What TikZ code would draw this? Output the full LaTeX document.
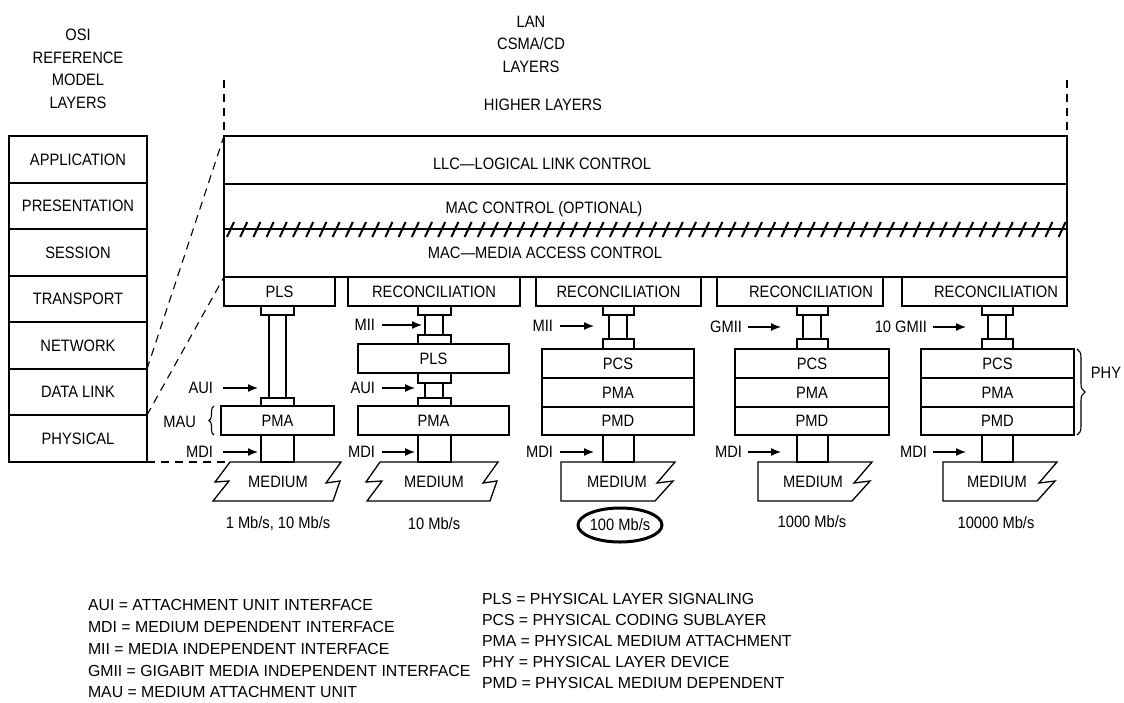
\documentclass[tikz,border=0pt]{standalone}
\usepackage{fontspec}
\setmainfont{Liberation Sans}[FakeStretch=0.89]
\newfontfamily\legfont{Liberation Sans}[FakeStretch=0.99]
\usetikzlibrary{shapes.geometric,decorations.pathreplacing,arrows.meta}
\tikzset{
  box/.style={draw, line width=1.3pt, inner sep=0pt, outer sep=0pt},
  txt/.style={inner sep=0pt, outer sep=0pt},
  lbl/.style={inner sep=0pt, outer sep=0pt, anchor=east},
  arr/.style={line width=1.3pt, -{Latex[length=10pt,width=8pt]}},
  dsh/.style={line width=1.1pt, dash pattern=on 8pt off 6pt},
  slash/.style={line width=2pt},
  med/.style={draw, line width=1.3pt, line join=miter},
  brc/.style={line width=1.1pt, decorate},
  leg/.style={inner sep=0pt, outer sep=0pt, anchor=west, font=\legfont\fontsize{16}{18}\selectfont},
  ring/.style={draw, ellipse, line width=3pt, minimum width=84pt, minimum height=34pt, inner sep=0pt}
}
\newcommand\bx[6]{\node[box, minimum width={(#4-#2)*1pt}, minimum height={(#5-#3)*1pt}] (#1) at ({(#2+#4)/2},{(#3+#5)/2}) {#6};}
\newcommand\phycol[8]{%
  \bx{c#1a}{#4}{306}{#5}{315}{}
  \bx{c#1t}{#6}{315}{#7}{339}{}
  \bx{c#1b}{#4}{339}{#5}{349}{}
  \bx{pcs#1}{#2}{349}{#3}{378}{PCS}
  \bx{pma#1}{#2}{378}{#3}{407}{PMA}
  \bx{pmd#1}{#2}{407}{#3}{435}{PMD}
  \bx{c#1m}{#4}{435}{#5}{462}{}
  \draw[med] (#8,462) -- ({#8+114},462) -- ({#8+96},483) -- ({#8+112},481) -- ({#8+94},501) -- (#8,501) -- cycle;
}
\begin{document}
\begin{tikzpicture}[x=1pt,y=-1pt,font=\fontsize{16.5}{22.5}\selectfont]
\useasboundingbox (0,0) rectangle (1124,702);

% titles
\node[txt, align=center] (osititle) at (78,69) {OSI\\REFERENCE\\MODEL\\LAYERS};
\node[txt, align=center] (lantitle) at (531,44) {LAN\\CSMA/CD\\LAYERS};
\node[txt] (higher) at (543,105) {HIGHER LAYERS};

% OSI stack
\bx{app}{9}{136}{147}{183}{APPLICATION}
\bx{pres}{9}{183}{147}{229}{PRESENTATION}
\bx{sess}{9}{229}{147}{276}{SESSION}
\bx{trans}{9}{276}{147}{322}{TRANSPORT}
\bx{net}{9}{322}{147}{369}{NETWORK}
\bx{dl}{9}{369}{147}{415}{DATA LINK}
\bx{phys}{9}{415}{147}{462}{PHYSICAL}

% LAN upper layers
\bx{llc}{224}{136}{1067}{184}{}
\node[txt] (llct) at (542,164) {LLC—LOGICAL LINK CONTROL};
\bx{mac}{224}{184}{1067}{277}{}
\node[txt] (macc) at (544,209) {MAC CONTROL (OPTIONAL)};
\node[txt] (mact) at (545,253) {MAC—MEDIA ACCESS CONTROL};
\draw[line width=1.3pt] (224,229) -- (1067,229);
\foreach \i in {0,...,63} \draw[slash] ({227+\i*13.2},237) -- ++(7,-15);

% dashed boundaries
\coordinate (dtl) at (224,80);
\coordinate (dtr) at (1067,80);
\draw[dsh] (dtl) -- (llc.north west);
\draw[dsh] (dtr) -- (llc.north east);
\draw[dsh] (net.south east) -- (llc.north west);

% reconciliation row
\bx{pls1}{224}{277}{335}{306}{PLS}
\bx{rec2}{348}{277}{520}{306}{RECONCILIATION}
\bx{rec3}{536}{277}{701}{306}{RECONCILIATION}
\bx{rec4}{717}{277}{883}{306}{}
\bx{rec5}{902}{277}{1067}{306}{}
\node[txt] (rec4t) at (811,291.5) {RECONCILIATION};
\node[txt] (rec5t) at (996,291.5) {RECONCILIATION};
\draw[dsh] (dl.south east) -- (pls1.north west);

% column 1
\bx{c1a}{261}{306}{294}{315}{}
\bx{c1t}{269}{315}{286}{398}{}
\bx{c1b}{261}{398}{294}{406}{}
\bx{pma1}{221}{406}{334}{435}{PMA}
\bx{c1m}{261}{435}{294}{462}{}
\coordinate (m1tl) at (230,462);
\draw[med] (m1tl) -- (341,462) -- (326,483) -- (340,481) -- (333,501) -- (213,501) -- (229,481) -- (215,482) -- cycle;
\draw[dsh] (phys.south east) -- (m1tl);
\node[txt] (med1) at (278,482) {MEDIUM};
\node[txt] (sp1) at (278,524) {1 Mb/s, 10 Mb/s};
\node[lbl] (aui1) at (213,388) {AUI};
\draw[arr] ([xshift=10pt]aui1.east) -- ([xshift=-3pt]c1b.west |- aui1.east);
\node[lbl] (mau) at (196,422) {MAU};
\draw[brc, decoration={brace, amplitude=5pt}] ([xshift=-7pt]pma1.south west) -- ([xshift=-7pt]pma1.north west);
\node[lbl] (mdi1) at (213,452) {MDI};
\draw[arr] ([xshift=10pt]mdi1.east) -- ([xshift=-3pt]c1m.west |- mdi1.east);

% column 2
\bx{c2a}{418}{306}{451}{315}{}
\bx{c2t}{425}{315}{443}{335}{}
\bx{c2b}{418}{335}{451}{344}{}
\bx{pls2}{358}{344}{509}{373}{PLS}
\bx{c2c}{418}{373}{451}{383}{}
\bx{c2u}{425}{383}{443}{398}{}
\bx{c2d}{418}{398}{451}{406}{}
\bx{pma2}{358}{406}{509}{435}{PMA}
\bx{c2m}{418}{435}{451}{462}{}
\draw[med] (380,462) -- (498,462) -- (483,483) -- (497,481) -- (490,501) -- (367,501) -- (382,481) -- (366,482) -- cycle;
\node[txt] (med2) at (434,482) {MEDIUM};
\node[txt] (sp2) at (434,524) {10 Mb/s};
\node[lbl] (mii2) at (375,325) {MII};
\draw[arr] ([xshift=7pt]mii2.east) -- ([xshift=-3pt]c2t.west |- mii2.east);
\node[lbl] (aui2) at (375,388) {AUI};
\draw[arr] ([xshift=7pt]aui2.east) -- ([xshift=-3pt]c2d.west |- aui2.east);
\node[lbl] (mdi2) at (375,452) {MDI};
\draw[arr] ([xshift=7pt]mdi2.east) -- ([xshift=-3pt]c2m.west |- mdi2.east);

% columns 3-5
\phycol{3}{542}{694}{603}{634}{609}{627}{561}
\phycol{4}{735}{889}{797}{828}{803}{821}{758}
\phycol{5}{921}{1074}{982}{1013}{988}{1006}{943}
\node[txt] (med3) at (617,482) {MEDIUM};
\node[txt] (med4) at (813,482) {MEDIUM};
\node[txt] (med5) at (997,482) {MEDIUM};
\node[txt] (sp3) at (620,525) {100 Mb/s};
\node[ring] (ring3) at (620,525) {};
\node[txt] (sp4) at (812,522) {1000 Mb/s};
\node[txt] (sp5) at (996,523) {10000 Mb/s};

\node[lbl] (mii3) at (553,326) {MII};
\draw[arr] ([xshift=7pt]mii3.east) -- ([xshift=-9pt]c3a.west |- mii3.east);
\node[lbl] (mdi3) at (553,452) {MDI};
\draw[arr] ([xshift=7pt]mdi3.east) -- ([xshift=-9pt]c3m.west |- mdi3.east);
\node[lbl] (gmii4) at (742,327) {GMII};
\draw[arr] ([xshift=6pt]gmii4.east) -- ([xshift=-16pt]c4a.west |- gmii4.east);
\node[lbl] (mdi4) at (742,452) {MDI};
\draw[arr] ([xshift=6pt]mdi4.east) -- ([xshift=-16pt]c4m.west |- mdi4.east);
\node[lbl] (gmii5) at (927,327) {10 GMII};
\draw[arr] ([xshift=6pt]gmii5.east) -- ([xshift=-16pt]c5a.west |- gmii5.east);
\node[lbl] (mdi5) at (927,452) {MDI};
\draw[arr] ([xshift=6pt]mdi5.east) -- ([xshift=-16pt]c5m.west |- mdi5.east);

% PHY brace
\draw[brc, decoration={brace, amplitude=8pt}] ([xshift=3pt]pcs5.north east) -- ([xshift=3pt]pmd5.south east);
\node[txt] (phy) at (1106,373) {PHY};

% legend
\node[leg] (l1) at (88,605) {AUI = ATTACHMENT UNIT INTERFACE};
\node[leg] (l2) at (88,627) {MDI = MEDIUM DEPENDENT INTERFACE};
\node[leg] (l3) at (88,649) {MII = MEDIA INDEPENDENT INTERFACE};
\node[leg] (l4) at (88,671) {GMII = GIGABIT MEDIA INDEPENDENT INTERFACE};
\node[leg] (l5) at (88,692) {MAU = MEDIUM ATTACHMENT UNIT};
\node[leg] (r1) at (482,599) {PLS = PHYSICAL LAYER SIGNALING};
\node[leg] (r2) at (482,620) {PCS = PHYSICAL CODING SUBLAYER};
\node[leg] (r3) at (482,641) {PMA = PHYSICAL MEDIUM ATTACHMENT};
\node[leg] (r4) at (482,662) {PHY = PHYSICAL LAYER DEVICE};
\node[leg] (r5) at (482,683) {PMD = PHYSICAL MEDIUM DEPENDENT};
\end{tikzpicture}
\end{document}
